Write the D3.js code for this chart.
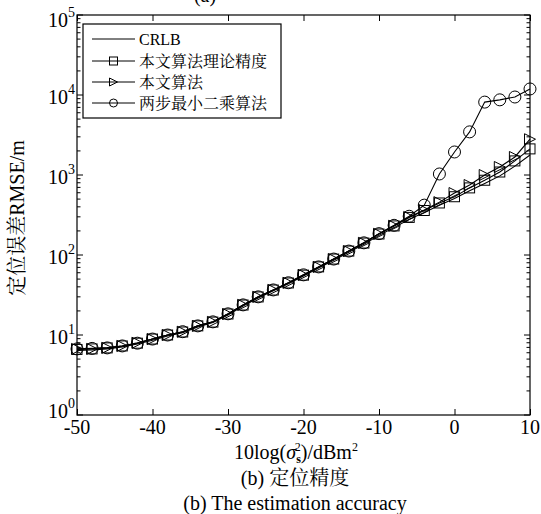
<!DOCTYPE html>
<html><head><meta charset="utf-8">
<script src="https://cdn.jsdelivr.net/npm/d3@7/dist/d3.min.js"></script>
<style>
html,body{margin:0;padding:0;background:#fff;}
svg{display:block;}
text{font-family:"Liberation Serif","Times New Roman","Noto Serif CJK SC","Noto Sans CJK SC",serif;fill:#000;}
</style></head>
<body>
<svg id="c" width="541" height="514"></svg>
<script>
const xs = [-50,-48,-46,-44,-42,-40,-38,-36,-34,-32,-30,-28,-26,-24,-22,-20,-18,-16,-14,-12,-10,-8,-6,-4,-2,0,2,4,6,8,10];
const crlb = [6.4,6.5,6.7,7.1,7.7,8.6,9.7,10.7,12.6,14.3,17.8,23.0,29.0,35.7,43.8,54.5,69,86,108,136,176,220,280,340,420,510,635,785,975,1290,1780];
const theory = [6.6,6.7,6.9,7.3,7.9,8.9,10.0,10.9,13.0,14.5,18.3,23.7,29.9,36.5,44.7,56,71,89,112,141,183,231,295,360,447,535,690,860,1090,1500,2120];
const proposed = [6.7,6.7,6.9,7.3,8.0,8.9,10.0,11.0,13.0,14.6,18.3,23.8,30,36.6,45,56.5,71,89,112,142,184,232,299,365,458,595,750,1000,1260,1680,2800];
const twoStep = [6.7,6.8,6.9,7.3,7.9,8.9,10.0,11.0,13.0,14.6,18.4,23.8,30,36.6,45,56.5,71,89,112,142,185,235,305,420,1030,1940,3460,8150,8700,9440,11900];
const xTicks = [-50,-40,-30,-20,-10,0,10];
const yMajor = [1,10,100,1000,10000,100000];
const legendLabels = ["CRLB","本文算法理论精度","本文算法","两步最小二乘算法"];
const yLabel = "定位误差RMSE/m";
const caption1 = "(b)  定位精度";
const caption2 = "(b) The estimation accuracy";

const svg = d3.select("#c");
const L=77,R=530,T=15,B=415;
const x = d3.scaleLinear().domain([-50,10]).range([L,R]);
const y = d3.scaleLog().domain([1,1e5]).range([B,T]);

// cut-off caption remnant at top
svg.append("text").attr("x",205).attr("y",2).attr("text-anchor","middle").attr("font-size",20).text("(a)");

// axes ticks (inward)
const minor = y.ticks().filter(v=>!yMajor.includes(v));
function ticksY(g, vals, len, side){
  g.selectAll(null).data(vals).enter().append("line")
   .attr("x1", side==="l"?L:R).attr("x2", side==="l"?L+len:R-len)
   .attr("y1", d=>y(d)).attr("y2", d=>y(d)).attr("stroke","#000").attr("stroke-width",1);
}
const ag = svg.append("g");
ticksY(ag, yMajor, 6, "l"); ticksY(ag, yMajor, 6, "r");
ticksY(ag, minor, 3.5, "l"); ticksY(ag, minor, 3.5, "r");
svg.append("g").attr("transform",`translate(0,${B})`)
  .call(d3.axisBottom(x).tickValues(xTicks).tickSize(-6).tickFormat(""))
  .call(g=>{g.select(".domain").remove(); g.selectAll("line").attr("stroke","#000");});
svg.append("g").attr("transform",`translate(0,${T})`)
  .call(d3.axisTop(x).tickValues(xTicks).tickSize(-6).tickFormat(""))
  .call(g=>{g.select(".domain").remove(); g.selectAll("line").attr("stroke","#000");});

// frame
svg.append("rect").attr("x",L).attr("y",T).attr("width",R-L).attr("height",B-T)
  .attr("fill","none").attr("stroke","#000").attr("stroke-width",1.2);

// x tick labels
svg.selectAll(null).data(xTicks).enter().append("text")
  .attr("x",d=>x(d)).attr("y",434).attr("text-anchor","middle").attr("font-size",20)
  .text(d=>d);

// y tick labels
yMajor.forEach((v,i)=>{
  const e = Math.round(Math.log10(v));
  const by = y(v) + (i===0?3:(i===yMajor.length-1?12:9));
  svg.append("text").attr("x",68).attr("y",by).attr("text-anchor","end").attr("font-size",20).text("10");
  svg.append("text").attr("x",68).attr("y",by-10).attr("font-size",14).text(e);
});

// series
const line = d3.line().x((d,i)=>x(xs[i])).y(d=>y(d));
function drawLine(data){
  svg.append("path").datum(data).attr("d",line).attr("fill","none").attr("stroke","#000").attr("stroke-width",1.1);
}
drawLine(crlb); drawLine(theory); drawLine(proposed); drawLine(twoStep);

function marker(g, type, cx, cy, s){
  if(type==="sq"){
    g.append("rect").attr("x",cx-s/2).attr("y",cy-s/2).attr("width",s).attr("height",s)
      .attr("fill","none").attr("stroke","#000").attr("stroke-width",1);
  } else if(type==="tri"){
    g.append("path").attr("d",`M${cx-s/2},${cy-s/2}L${cx+s/2},${cy}L${cx-s/2},${cy+s/2}Z`)
      .attr("fill","none").attr("stroke","#000").attr("stroke-width",1);
  } else if(type==="ci"){
    g.append("circle").attr("cx",cx).attr("cy",cy).attr("r",s/2)
      .attr("fill","none").attr("stroke","#000").attr("stroke-width",1);
  }
}
const mg = svg.append("g");
theory.forEach((v,i)=>marker(mg,"sq",x(xs[i]),y(v),10));
proposed.forEach((v,i)=>marker(mg,"tri",x(xs[i]),y(v),11));
twoStep.forEach((v,i)=>marker(mg,"ci",x(xs[i]),y(v),12));

// legend
const lg = svg.append("g");
lg.append("rect").attr("x",83).attr("y",24).attr("width",198).attr("height",94)
  .attr("fill","#fff").attr("stroke","#000").attr("stroke-width",1.2);
const rows=[39,61,82,103], types=[null,"sq","tri","ci"];
legendLabels.forEach((lab,i)=>{
  lg.append("line").attr("x1",92).attr("x2",135).attr("y1",rows[i]).attr("y2",rows[i]).attr("stroke","#000").attr("stroke-width",1);
  if(types[i]) marker(lg,types[i],113.5,rows[i],8);
  lg.append("text").attr("x",139).attr("y",rows[i]+6).attr("font-size",16).text(lab);
});

// axis labels
svg.append("text").attr("transform","translate(24,218) rotate(-90)").attr("text-anchor","middle")
  .attr("font-size",20).text(yLabel);
const xl = svg.append("text").attr("x",296).attr("y",459).attr("text-anchor","middle").attr("font-size",20);
xl.append("tspan").text("10log(");
xl.append("tspan").attr("font-style","italic").text("σ");
xl.append("tspan").attr("font-size",12).attr("font-weight","bold").attr("dy",4).text("s");
xl.append("tspan").attr("font-size",12).attr("dx",-6).attr("dy",-12).text("2");
xl.append("tspan").attr("dy",8).text(")/dBm");
xl.append("tspan").attr("font-size",12).attr("dy",-8).text("2");

svg.append("text").attr("x",295).attr("y",485).attr("text-anchor","middle").attr("font-size",20).text(caption1);
svg.append("text").attr("x",295).attr("y",510).attr("text-anchor","middle").attr("font-size",20).text(caption2);
</script>
</body></html>
